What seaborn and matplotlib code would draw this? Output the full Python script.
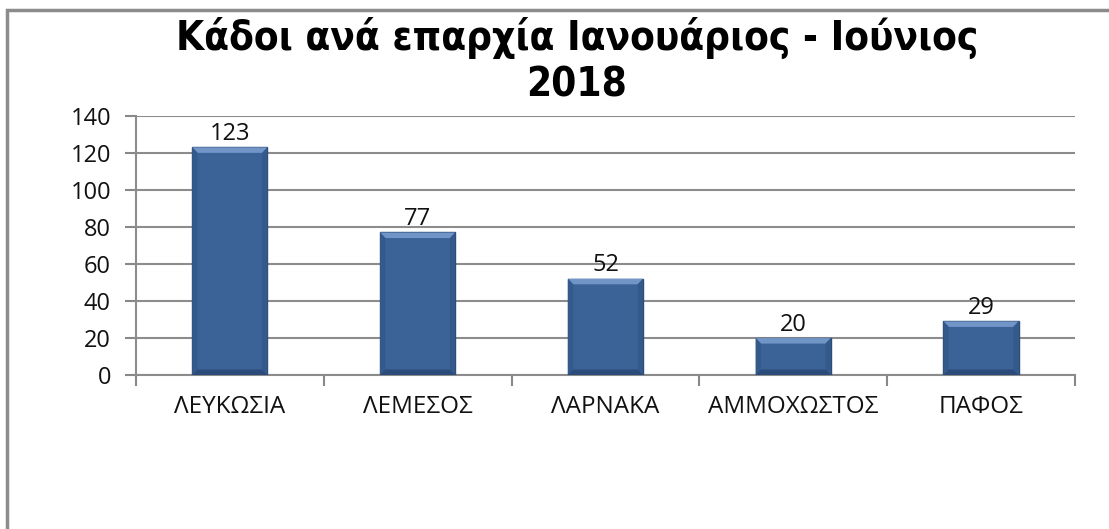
import numpy as np
import pandas as pd
import matplotlib.pyplot as plt
import seaborn as sns
from matplotlib.patches import Rectangle, Polygon

# data
regions = ["ΛΕΥΚΩΣΙΑ", "ΛΕΜΕΣΟΣ", "ΛΑΡΝΑΚΑ", "ΑΜΜΟΧΩΣΤΟΣ", "ΠΑΦΟΣ"]
bins = [123, 77, 52, 20, 29]
yticks = [0, 20, 40, 60, 80, 100, 120, 140]
title = "Κάδοι ανά επαρχία Ιανουάριος - Ιούνιος\n2018"

df = pd.DataFrame({"region": regions, "bins": bins})

sns.set_style("white")
plt.rcParams['font.family'] = ['Open Sans', 'DejaVu Sans']

fig = plt.figure(figsize=(11.09, 5.29), dpi=100)
ax = fig.add_axes([0.1226, 0.291, 0.8467, 0.490])

sns.barplot(data=df, x="region", y="bins", color="#3b6397", width=0.4,
            edgecolor="#2c4b76", linewidth=1.0, saturation=1, ax=ax, zorder=3)

# bevel look: lighter top band, darker sides and bottom on every bar
for bar in ax.patches:
    x0, y0 = bar.get_x(), bar.get_y()
    w, h = bar.get_width(), bar.get_height()
    bev = min(3.0, h * 0.2)
    bx = w * 0.07
    top = Polygon([(x0, y0 + h), (x0 + w, y0 + h), (x0 + w - bx, y0 + h - bev), (x0 + bx, y0 + h - bev)],
                  closed=True, facecolor="#7095c6", edgecolor="none", zorder=4)
    left = Polygon([(x0, y0), (x0, y0 + h), (x0 + bx, y0 + h - bev), (x0 + bx, y0 + bev)],
                   closed=True, facecolor="#345a8c", edgecolor="none", zorder=4)
    right = Polygon([(x0 + w, y0), (x0 + w, y0 + h), (x0 + w - bx, y0 + h - bev), (x0 + w - bx, y0 + bev)],
                    closed=True, facecolor="#345a8c", edgecolor="none", zorder=4)
    bot = Polygon([(x0, y0), (x0 + w, y0), (x0 + w - bx, y0 + bev), (x0 + bx, y0 + bev)],
                  closed=True, facecolor="#2b4c7a", edgecolor="none", zorder=4)
    for p in (top, left, right, bot):
        ax.add_patch(p)

for i, v in enumerate(bins):
    ax.text(i, v + 0.8, str(v), ha="center", va="bottom", fontsize=17, color="#111111", zorder=5)

ax.set_ylim(0, 140)
ax.set_xlim(-0.5, len(regions) - 0.5)
ax.set_yticks(yticks)
ax.set_yticklabels([str(t) for t in yticks], fontsize=17, color="#111111")
for lab in ax.get_xticklabels():
    lab.set_color("#111111")
ax.set_xlabel("")
ax.set_ylabel("")
ax.tick_params(axis="x", which="major", length=0, labelsize=17.5, pad=14)
ax.tick_params(axis="y", left=True, length=8, width=1.5, color="#888888", pad=10)

# category boundary ticks below the x axis
ax.set_xticks(np.arange(-0.5, len(regions)), minor=True)
ax.tick_params(axis="x", which="minor", bottom=True, length=8, width=1.5, color="#888888")

ax.yaxis.grid(True, color="#8c8c8c", linewidth=1.5, zorder=0)
ax.set_axisbelow(True)
for s in ["top", "right"]:
    ax.spines[s].set_visible(False)
for s in ["left", "bottom"]:
    ax.spines[s].set_color("#8c8c8c")
    ax.spines[s].set_linewidth(1.5)

fig.text(0.520, 0.968, title, ha="center", va="top", fontsize=29, fontweight="bold",
         family="DejaVu Sans", fontstretch="condensed", color="black", linespacing=1.2)

# outer chart frame
frame = Rectangle((7 / 1109, -0.05), 1.1, 1 - 10 / 529 + 0.05, transform=fig.transFigure,
                  fill=False, edgecolor="#8c8c8c", linewidth=2.5)
fig.patches.append(frame)

fig.savefig("out.png", dpi=100)
